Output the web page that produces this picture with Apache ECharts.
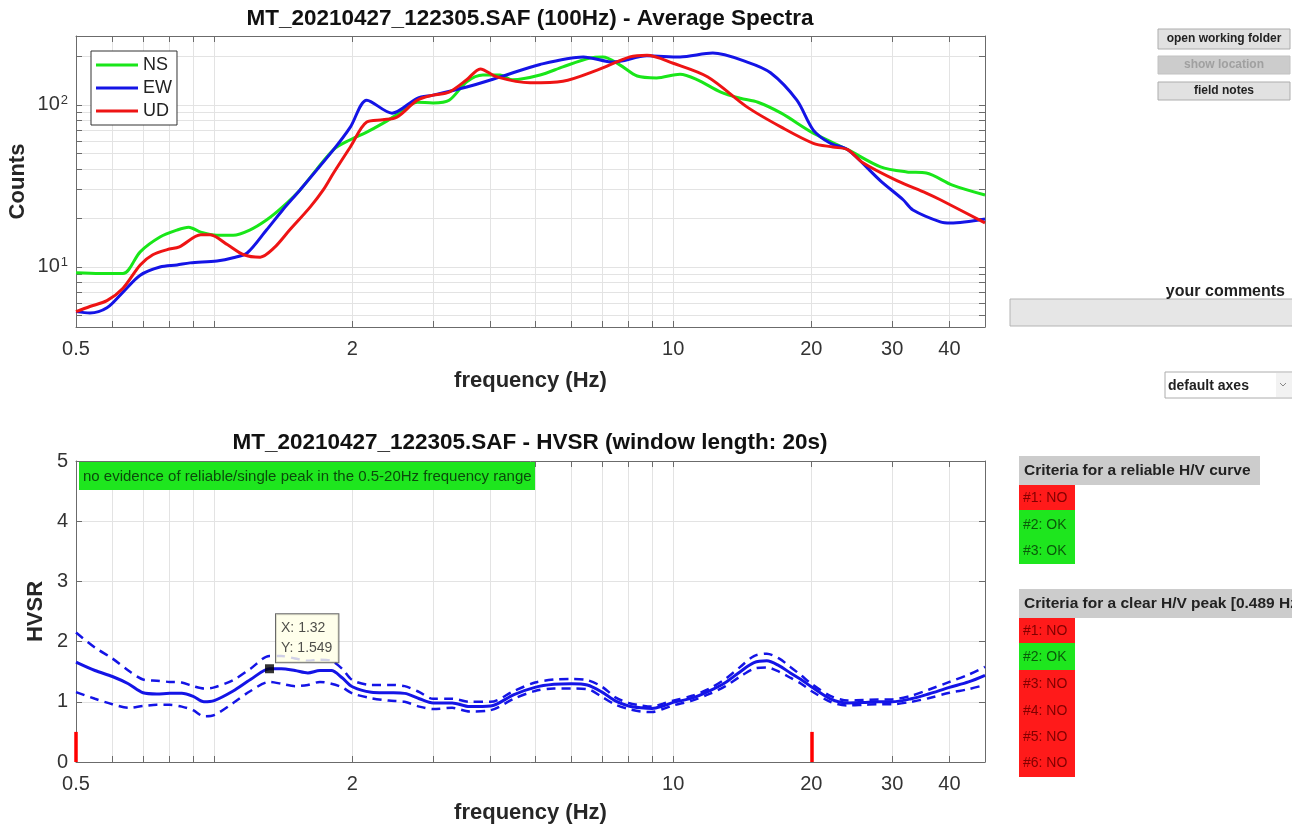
<!DOCTYPE html>
<html lang="en">
<head>
  <meta charset="UTF-8">
  <title>MT_20210427_122305.SAF - spectra and HVSR</title>
  <style>
    html, body { margin: 0; padding: 0; background: #fff; }
    #main { width: 1292px; height: 828px; }
  </style>
</head>
<body>
<div id="main"></div>
<script src="https://cdn.jsdelivr.net/npm/echarts@6/dist/echarts.min.js"></script>
<script>
  // average spectra (Hz / counts)
  var nsFreq = [0.5, 0.564, 0.633, 0.69, 0.762, 0.83, 0.88, 0.935, 1.014, 1.1, 1.195, 1.3, 1.41, 1.54, 1.82, 1.98, 2.15, 2.33, 2.5, 2.77, 3.0, 3.25, 3.55, 3.85, 4.2, 4.47, 5.13, 5.75, 6.58, 7.03, 7.65, 8.35, 9.2, 10.35, 11.3, 12.7, 14.0, 15.3, 17.2, 20.2, 24, 28.3, 32.3, 35.6, 40.6, 47.8];
  var nsCounts = [9.2, 9.1, 9.1, 12.4, 15.3, 16.9, 17.6, 16.4, 15.7, 15.7, 16.9, 19.5, 23.5, 30, 53, 61, 68, 77, 87, 104, 103, 107, 139, 153, 153, 143, 153, 172, 195, 198, 177, 151, 147, 155, 143, 120, 110, 104, 89, 67, 53, 41.5, 38.6, 38, 32, 27.8];

  var ewFreq = [0.5, 0.536, 0.584, 0.633, 0.69, 0.762, 0.83, 0.886, 1.014, 1.1, 1.18, 1.3, 1.41, 1.54, 1.82, 1.98, 2.15, 2.44, 2.77, 3.0, 3.55, 4.2, 5.13, 6.37, 7.4, 8.77, 10.35, 12.2, 14.5, 16.3, 18.6, 20.2, 22, 24, 28.3, 31.7, 33.3, 38.2, 40.2, 47.8];
  var ewCounts = [5.3, 5.2, 5.6, 7.0, 8.9, 10, 10.3, 10.6, 10.9, 11.4, 12.2, 16.9, 22.5, 30, 53, 73, 107, 89, 110, 115, 129, 149, 178, 198, 184, 201, 198, 209, 184, 158, 107, 70, 58, 53, 34, 26, 22.5, 19, 18.7, 19.8];

  var udFreq = [0.5, 0.536, 0.584, 0.633, 0.69, 0.735, 0.79, 0.84, 0.935, 0.98, 1.07, 1.16, 1.26, 1.35, 1.46, 1.62, 1.73, 1.82, 1.98, 2.15, 2.33, 2.5, 2.77, 3.0, 3.25, 3.55, 3.8, 4.13, 4.88, 5.75, 6.83, 8.05, 8.77, 10.0, 11.9, 14.5, 17.2, 20.2, 22.3, 24, 25.9, 30.8, 35.6, 38.2, 47.8];
  var udCounts = [5.3, 5.7, 6.2, 7.4, 10.3, 11.9, 12.8, 13.3, 15.8, 15.8, 13.7, 11.9, 11.5, 13.1, 16.9, 23.5, 30, 38, 55, 78.5, 81, 84, 107, 115, 120, 143, 167, 149, 137, 140, 164, 198, 203, 181, 149, 97, 73, 58, 55, 53, 44, 34, 28.6, 26, 18.7];

  // HVSR curve with its +/- std bands
  var hvFreq = [0.5, 0.55, 0.6, 0.65, 0.7, 0.75, 0.8, 0.85, 0.9, 0.95, 1.0, 1.1, 1.2, 1.32, 1.4, 1.5, 1.6, 1.7, 1.8, 1.9, 2.0, 2.2, 2.4, 2.6, 2.8, 3.0, 3.3, 3.6, 4.0, 4.5, 5, 5.5, 6, 6.5, 7, 7.5, 8, 8.5, 9, 9.5, 10, 11, 12, 13, 14, 15, 16, 17, 18, 19, 20, 22, 24, 26, 28, 30, 33, 36, 40, 44, 47.8];
  var hvMean = [1.66, 1.52, 1.42, 1.30, 1.15, 1.13, 1.14, 1.14, 1.09, 1.0, 1.02, 1.18, 1.37, 1.549, 1.55, 1.52, 1.48, 1.52, 1.52, 1.40, 1.25, 1.16, 1.15, 1.14, 1.05, 0.98, 0.98, 0.92, 0.93, 1.12, 1.24, 1.29, 1.30, 1.28, 1.16, 1.01, 0.93, 0.90, 0.89, 0.93, 0.99, 1.06, 1.18, 1.32, 1.50, 1.65, 1.68, 1.60, 1.48, 1.37, 1.25, 1.05, 0.98, 0.99, 1.0, 1.0, 1.05, 1.13, 1.24, 1.33, 1.44];
  var hvUpper = [2.15, 1.90, 1.72, 1.52, 1.37, 1.35, 1.33, 1.32, 1.26, 1.22, 1.24, 1.36, 1.55, 1.76, 1.76, 1.72, 1.68, 1.70, 1.68, 1.55, 1.36, 1.28, 1.28, 1.26, 1.16, 1.05, 1.05, 1.0, 1.0, 1.18, 1.32, 1.37, 1.38, 1.36, 1.25, 1.07, 0.98, 0.94, 0.92, 0.97, 1.02, 1.10, 1.22, 1.38, 1.58, 1.76, 1.80, 1.72, 1.58, 1.44, 1.30, 1.10, 1.02, 1.03, 1.04, 1.04, 1.10, 1.20, 1.33, 1.45, 1.58];
  var hvLower = [1.16, 1.05, 0.96, 0.90, 0.93, 0.95, 0.95, 0.92, 0.86, 0.76, 0.78, 0.98, 1.18, 1.33, 1.30, 1.26, 1.28, 1.33, 1.30, 1.24, 1.14, 1.06, 1.02, 1.0, 0.92, 0.88, 0.90, 0.84, 0.86, 1.05, 1.18, 1.22, 1.22, 1.21, 1.08, 0.95, 0.88, 0.84, 0.83, 0.88, 0.94, 1.02, 1.13, 1.26, 1.42, 1.55, 1.57, 1.50, 1.40, 1.30, 1.18, 1.0, 0.94, 0.95, 0.96, 0.96, 1.0, 1.06, 1.15, 1.21, 1.28];

  var freqLimits = [0.5, 20];
  var peakTip = [1.32, 1.549];

  // ticks and labels
  var freqTicks = [0.5, 0.6, 0.7, 0.8, 0.9, 1, 2, 3, 4, 5, 6, 7, 8, 9, 10, 20, 30, 40];
  var freqLabels = [0.5, 2, 10, 20, 30, 40];
  var countTicks = [5, 6, 7, 8, 9, 10, 20, 30, 40, 50, 60, 70, 80, 90, 100, 200];
  var countLabels = [10, 100];

  var FONT = 'Liberation Sans, Arial, Helvetica, sans-serif';
  var AXIS = '#6b6b6b';

  function zip(f, v) {
    return f.map(function (x, i) { return [x, v[i]]; });
  }

  function freqAxis(grid, pos) {
    var main = pos === 'bottom';
    return {
      type: 'log', gridIndex: grid, position: pos, min: 0.5, max: 47.8,
      axisLine: { show: true, onZero: false, lineStyle: { color: AXIS, width: 1 } },
      axisTick: { show: true, inside: true, length: 6, customValues: freqTicks, lineStyle: { color: AXIS } },
      axisLabel: {
        show: main, customValues: freqLabels, margin: 12, fontSize: 20, color: '#333', fontFamily: FONT,
        formatter: function (v) { return String(Math.round(v * 10) / 10); }
      },
      splitLine: { show: main, lineStyle: { color: '#e3e3e3', width: 1 } },
      name: main ? 'frequency (Hz)' : '', nameLocation: 'middle', nameGap: grid === 0 ? 43 : 40,
      nameMoveOverlap: false,
      nameTextStyle: { fontSize: 22, fontWeight: 'bold', color: '#262626', fontFamily: FONT }
    };
  }

  function countAxis(pos) {
    var main = pos === 'left';
    return {
      type: 'log', gridIndex: 0, position: pos, min: 4.26, max: 266.6,
      axisLine: { show: true, lineStyle: { color: AXIS, width: 1 } },
      axisTick: { show: true, inside: true, length: 6, customValues: countTicks, lineStyle: { color: AXIS } },
      axisLabel: {
        show: main, customValues: countLabels, margin: 8, color: '#333', fontFamily: FONT,
        formatter: function (v) { return '{b|10}{s|' + Math.round(Math.log10(v)) + '}'; },
        rich: {
          b: { fontSize: 20, color: '#333', fontFamily: FONT },
          s: { fontSize: 13, color: '#333', fontFamily: FONT, padding: [0, 0, 10, 1] }
        }
      },
      splitLine: { show: main, lineStyle: { color: '#e3e3e3', width: 1 } },
      name: main ? 'Counts' : '', nameLocation: 'middle', nameGap: 47,
      nameMoveOverlap: false,
      nameTextStyle: { fontSize: 22, fontWeight: 'bold', color: '#262626', fontFamily: FONT }
    };
  }

  function hvsrAxis(pos) {
    var main = pos === 'left';
    return {
      type: 'value', gridIndex: 1, position: pos, min: 0, max: 5, interval: 1,
      axisLine: { show: true, onZero: false, lineStyle: { color: AXIS, width: 1 } },
      axisTick: { show: true, inside: true, length: 6, lineStyle: { color: AXIS } },
      axisLabel: { show: main, margin: 8, fontSize: 20, color: '#333', fontFamily: FONT },
      splitLine: { show: main, lineStyle: { color: '#e3e3e3', width: 1 } },
      name: main ? 'HVSR' : '', nameLocation: 'middle', nameGap: 29,
      nameMoveOverlap: false,
      nameTextStyle: { fontSize: 22, fontWeight: 'bold', color: '#262626', fontFamily: FONT }
    };
  }

  function spectrum(name, f, v, color) {
    return {
      name: name, type: 'line', xAxisIndex: 0, yAxisIndex: 0,
      data: zip(f, v), showSymbol: false, smooth: 0.3,
      lineStyle: { color: color, width: 3 }, itemStyle: { color: color },
      emphasis: { disabled: true }
    };
  }

  function hvLine(f, v, dashed) {
    return {
      type: 'line', xAxisIndex: 2, yAxisIndex: 2,
      data: zip(f, v), showSymbol: false, smooth: 0.3,
      lineStyle: { color: '#1414e6', width: dashed ? 2.5 : 3, type: dashed ? [9, 6] : 'solid' },
      emphasis: { disabled: true }
    };
  }

  var chart = echarts.init(document.getElementById('main'));

  var mean = hvLine(hvFreq, hvMean, false);
  mean.markLine = {
    silent: true, symbol: ['none', 'none'], label: { show: false },
    lineStyle: { color: '#ff0000', width: 3.5, type: 'solid' },
    data: freqLimits.map(function (f) { return [{ coord: [f, 0] }, { coord: [f, 0.5] }]; })
  };

  // side panel (buttons and criteria boxes)
  function box(x, y, w, h, fill, stroke) {
    return { type: 'rect', z: 50, shape: { x: x, y: y, width: w, height: h }, style: { fill: fill, stroke: stroke || null, lineWidth: 1 } };
  }
  function txt(x, y, s, font, fill, align) {
    return { type: 'text', z: 51, x: x, y: y, style: { text: s, font: font, fill: fill, align: align || 'left', verticalAlign: 'middle' } };
  }
  var RED = '#ff1a1a', GREEN = '#1ee61e', DRED = '#800000', DGREEN = '#0a5a0a';

  var panel = [
    box(1158, 29, 132, 20, '#e1e1e1', '#adadad'),
    txt(1224, 39, 'open working folder', 'bold 12px ' + FONT, '#222', 'center'),
    box(1158, 56, 132, 18, '#cccccc', '#c2c2c2'),
    txt(1224, 65, 'show location', 'bold 12px ' + FONT, '#a0a0a0', 'center'),
    box(1158, 82, 132, 18, '#e1e1e1', '#adadad'),
    txt(1224, 91, 'field notes', 'bold 12px ' + FONT, '#222', 'center'),
    txt(1285, 292, 'your comments', 'bold 16px ' + FONT, '#222', 'right'),
    box(1010, 299, 290, 27, '#e6e6e6', '#b4b4b4'),
    box(1165, 372, 130, 26, '#ffffff', '#acacac'),
    box(1276, 373, 17, 24, '#f2f2f2', null),
    txt(1168, 386, 'default axes', 'bold 14px ' + FONT, '#222'),
    { type: 'polyline', z: 51, shape: { points: [[1280, 383], [1283, 386], [1286, 383]] }, style: { stroke: '#888', fill: null, lineWidth: 1 } },

    box(1019, 456, 241, 29, '#cccccc'),
    txt(1024, 471, 'Criteria for a reliable H/V curve', 'bold 15.5px ' + FONT, '#222'),
    box(1019, 485, 56, 25, RED),
    box(1019, 510, 56, 54, GREEN),
    txt(1023, 498, '#1: NO', '14px ' + FONT, DRED),
    txt(1023, 525, '#2: OK', '14px ' + FONT, DGREEN),
    txt(1023, 551, '#3: OK', '14px ' + FONT, DGREEN),

    box(1019, 589, 290, 29, '#cccccc'),
    txt(1024, 604, 'Criteria for a clear H/V peak [0.489 Hz]', 'bold 15.5px ' + FONT, '#222'),
    box(1019, 618, 56, 25, RED),
    box(1019, 643, 56, 27, GREEN),
    box(1019, 670, 56, 107, RED),
    txt(1023, 631, '#1: NO', '14px ' + FONT, DRED),
    txt(1023, 657, '#2: OK', '14px ' + FONT, DGREEN),
    txt(1023, 684, '#3: NO', '14px ' + FONT, DRED),
    txt(1023, 711, '#4: NO', '14px ' + FONT, DRED),
    txt(1023, 737, '#5: NO', '14px ' + FONT, DRED),
    txt(1023, 763, '#6: NO', '14px ' + FONT, DRED)
  ];

  var titles = [
    txt(530, 19, 'MT_20210427_122305.SAF (100Hz) - Average Spectra', 'bold 22.5px ' + FONT, '#111', 'center'),
    txt(530, 443, 'MT_20210427_122305.SAF - HVSR (window length: 20s)', 'bold 22.5px ' + FONT, '#111', 'center'),
    box(79, 462, 456, 28, GREEN),
    txt(83, 477, 'no evidence of reliable/single peak in the 0.5-20Hz frequency range', '15px ' + FONT, '#0b4a0b')
  ];

  var option = {
    animation: false,
    backgroundColor: '#ffffff',
    grid: [
      { left: 76, top: 36, width: 909, height: 291, outerBoundsMode: 'none', containLabel: false },
      { left: 76, top: 461, width: 909, height: 301, outerBoundsMode: 'none', containLabel: false }
    ],
    xAxis: [freqAxis(0, 'bottom'), freqAxis(0, 'top'), freqAxis(1, 'bottom'), freqAxis(1, 'top')],
    yAxis: [countAxis('left'), countAxis('right'), hvsrAxis('left'), hvsrAxis('right')],
    legend: {
      data: ['NS', 'EW', 'UD'], orient: 'vertical', left: 91, top: 51,
      backgroundColor: '#fff', borderColor: '#333', borderWidth: 1,
      padding: [5, 5, 5, 5], itemGap: 5, itemWidth: 42, itemHeight: 3, icon: 'rect',
      textStyle: { fontSize: 18, color: '#222', fontFamily: FONT }
    },
    series: [
      spectrum('NS', nsFreq, nsCounts, '#19e619'),
      spectrum('EW', ewFreq, ewCounts, '#1414e6'),
      spectrum('UD', udFreq, udCounts, '#ee1414'),
      hvLine(hvFreq, hvUpper, true),
      hvLine(hvFreq, hvLower, true),
      mean,
      {
        type: 'scatter', xAxisIndex: 2, yAxisIndex: 2, z: 5,
        data: [peakTip], symbol: 'rect', symbolSize: 9,
        itemStyle: { color: '#000' },
        label: {
          show: true, position: [11, -50],
          formatter: function (p) { return 'X: ' + p.value[0] + '\nY: ' + p.value[1]; },
          backgroundColor: '#ffffe6', borderColor: '#444', borderWidth: 1,
          padding: [4, 6, 4, 5], lineHeight: 20, fontSize: 14, color: '#222', fontFamily: FONT
        },
        emphasis: { disabled: true }
      }
    ],
    graphic: titles.concat(panel)
  };

  chart.setOption(option);
</script>
</body>
</html>
